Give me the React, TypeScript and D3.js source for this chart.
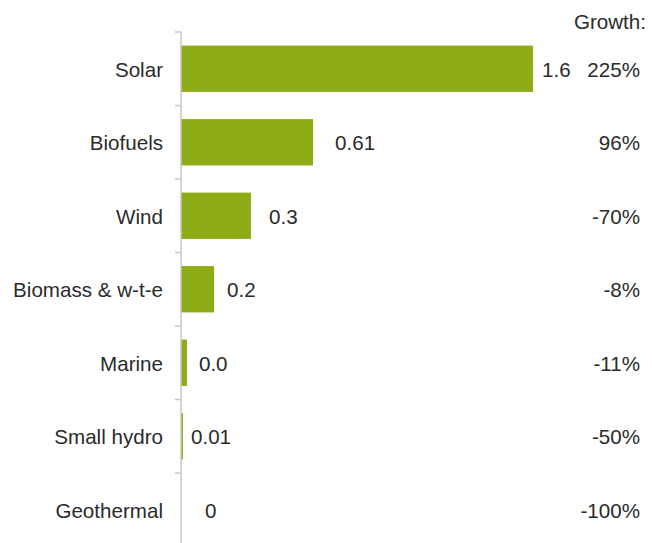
import React from "react";
import * as d3 from "d3";

const categories = ["Solar", "Biofuels", "Wind", "Biomass & w-t-e", "Marine", "Small hydro", "Geothermal"];
const values = [1.6, 0.6, 0.318, 0.15, 0.027, 0.009, 0];
const valueLabels = ["1.6", "0.61", "0.3", "0.2", "0.0", "0.01", "0"];
const growthLabels = ["225%", "96%", "-70%", "-8%", "-11%", "-50%", "-100%"];

const W = 652;
const H = 543;
const left = 181;
const top = 32;
const bandH = 73.5;
// gap between each bar end and its value label, as placed in the source
const labelGap = [9, 22, 18, 13, 12, 8, 24];

export default function App() {
  const x = d3.scaleLinear().domain([0, 1.6]).range([left, 533]);
  const y = d3
    .scaleBand<string>()
    .domain(categories)
    .range([top, top + bandH * categories.length])
    .paddingInner(0.37)
    .paddingOuter(0.185);
  const font = "'Liberation Sans', Arial, sans-serif";
  const textColor = "#2b2b2b";
  const fs = 20.6;
  return (
    <svg
      width={W}
      height={H}
      style={{ position: "absolute", left: 0, top: 0, background: "#fff" }}
      fontFamily={font}
    >
      {categories.map((c, i) => {
        const yc = (y(c) as number) + y.bandwidth() / 2 + 1;
        const w = x(values[i]) - x(0);
        return (
          <g key={c}>
            {w > 0 && (
              <rect x={x(0)} y={y(c)} width={w} height={y.bandwidth()} fill="#8eac15" />
            )}
            <text x={163} y={yc} dy="0.35em" textAnchor="end" fontSize={fs} fill={textColor}>
              {c}
            </text>
            <text
              x={x(values[i]) + labelGap[i]}
              y={yc}
              dy="0.35em"
              textAnchor="start"
              fontSize={fs}
              fill={textColor}
            >
              {valueLabels[i]}
            </text>
            <text x={640} y={yc} dy="0.35em" textAnchor="end" fontSize={fs} fill={textColor}>
              {growthLabels[i]}
            </text>
          </g>
        );
      })}
      <line x1={left} x2={left} y1={top} y2={top + bandH * categories.length} stroke="#c9c9bd" strokeWidth={1.5} />
      {d3.range(categories.length + 1).map((k) => (
        <line
          key={k}
          x1={left - 6}
          x2={left}
          y1={top + k * bandH}
          y2={top + k * bandH}
          stroke="#c9c9bd"
          strokeWidth={1.5}
        />
      ))}
      <text x={646} y={22} dy="0.35em" textAnchor="end" fontSize={fs} fill={textColor}>
        Growth:
      </text>
    </svg>
  );
}
